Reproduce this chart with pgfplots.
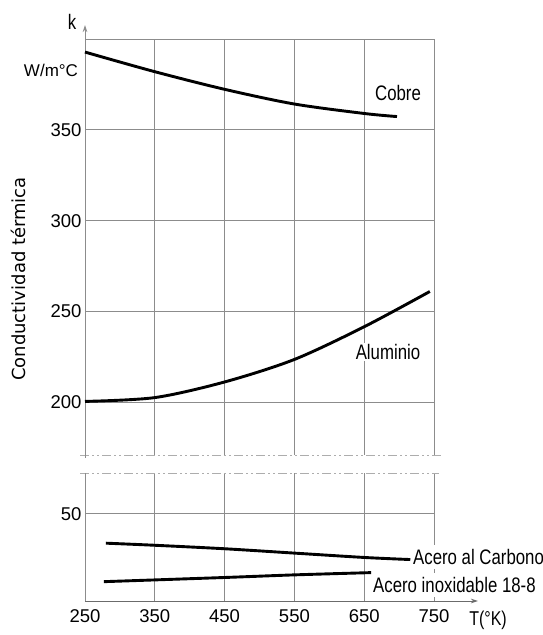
\documentclass[border=0pt]{standalone}
\usepackage{fontspec}
\setmainfont{Liberation Sans}
\newfontfamily\narrowfont{Liberation Sans}[FakeStretch=0.8]
\newfontfamily\dvfont{DejaVu Sans}
\usepackage{pgfplots}
\pgfplotsset{compat=1.18}
\usetikzlibrary{arrows.meta}
\definecolor{gridgray}{gray}{0.55}
\definecolor{dashgray}{gray}{0.68}
\definecolor{axgray}{gray}{0.42}

\begin{document}
\begin{tikzpicture}[x=1pt,y=1pt]
\useasboundingbox (0,0) rectangle (543,635);
\pgfplotsset{
  common/.style={
    scale only axis, width=349pt, xmin=250, xmax=750, clip=false,
    axis line style={draw=none}, tick style={draw=none},
    grid=major, grid style={gridgray, line width=0.9pt},
    /pgf/number format/assume math mode=true,
    tick label style={font=\fontsize{18.5}{20}\selectfont},
  },
  curve/.style={black, line width=2.9pt, smooth, no marks},
}
% ---------- upper part ----------
\begin{axis}[common, at={(85pt,180pt)}, anchor=south west, height=416pt,
  ymin=171, ymax=400,
  xtick={350,450,550,650,750}, xticklabels={},
  ytick={200,250,300,350,400}, yticklabels={200,250,300,350,},
]
\draw[dashgray, line width=0.9pt, dash pattern=on 9pt off 3pt on 2pt off 3pt on 2pt off 3pt]
  ([xshift=-5pt]axis cs:250,171) -- ([xshift=8pt]axis cs:750,171);
\draw[gridgray, line width=0.9pt, -{Stealth[length=7pt,width=4.5pt]}]
  (axis cs:250,169.5) -- (axis cs:250,407.7);
% Cobre
\addplot[curve] coordinates {(250,392.8) (350,382) (450,372.3) (550,364.2) (650,359) (697,357.3)};
% Aluminio
\addplot[curve] coordinates {(250,200.5) (350,202.6) (450,211.2) (550,223.6) (650,241.6) (744,261)};
\end{axis}
% ---------- lower part ----------
\begin{axis}[common, at={(85pt,34pt)}, anchor=south west, height=128pt,
  ymin=0, ymax=73.5,
  xtick={250,350,450,550,650,750},
  ytick={50},
  xticklabel style={yshift=-5pt},
]
\draw[dashgray, line width=0.9pt, dash pattern=on 9pt off 3pt on 2pt off 3pt on 2pt off 3pt]
  ([xshift=-5pt]axis cs:250,73.5) -- ([xshift=5pt]axis cs:750,73.5);
\draw[gridgray, line width=0.9pt] (axis cs:250,0) -- (axis cs:250,73.5);
\draw[axgray, line width=0.9pt, -{Stealth[length=7pt,width=4.5pt]}]
  (axis cs:250,0) -- (axis cs:813,0);
% Acero al Carbono
\addplot[curve] coordinates {(280,33.2) (350,32) (450,30) (550,27.5) (650,25) (716,23.8)};
% Acero inoxidable 18-8
\addplot[curve] coordinates {(277,11.1) (450,13.5) (550,15) (660,16.3)};
\end{axis}
% ---------- texts ----------
\node[rotate=90, font=\dvfont\fontsize{18}{20}\selectfont] at (18,356) {Conductividad térmica};
\node[font=\narrowfont\fontsize{21}{24}\selectfont] at (72,613) {k};
\node[font=\fontsize{17}{20}\selectfont] at (51,565) {W/m°C};
\node[font=\narrowfont\fontsize{20}{24}\selectfont] at (488,15) {T(°K)};
\node[font=\narrowfont\fontsize{21}{24}\selectfont] at (398,542) {Cobre};
\node[font=\narrowfont\fontsize{21}{24}\selectfont, fill=white, inner sep=1.5pt] at (388,283) {Aluminio};
\node[font=\narrowfont\fontsize{21}{24}\selectfont, fill=white, inner xsep=1pt, inner ysep=4pt, anchor=west] at (412,78) {Acero al Carbono};
\node[font=\narrowfont\fontsize{21}{24}\selectfont, fill=white, inner xsep=1pt, inner ysep=4pt, anchor=west] at (372,50) {Acero inoxidable 18-8};
\end{tikzpicture}
\end{document}
